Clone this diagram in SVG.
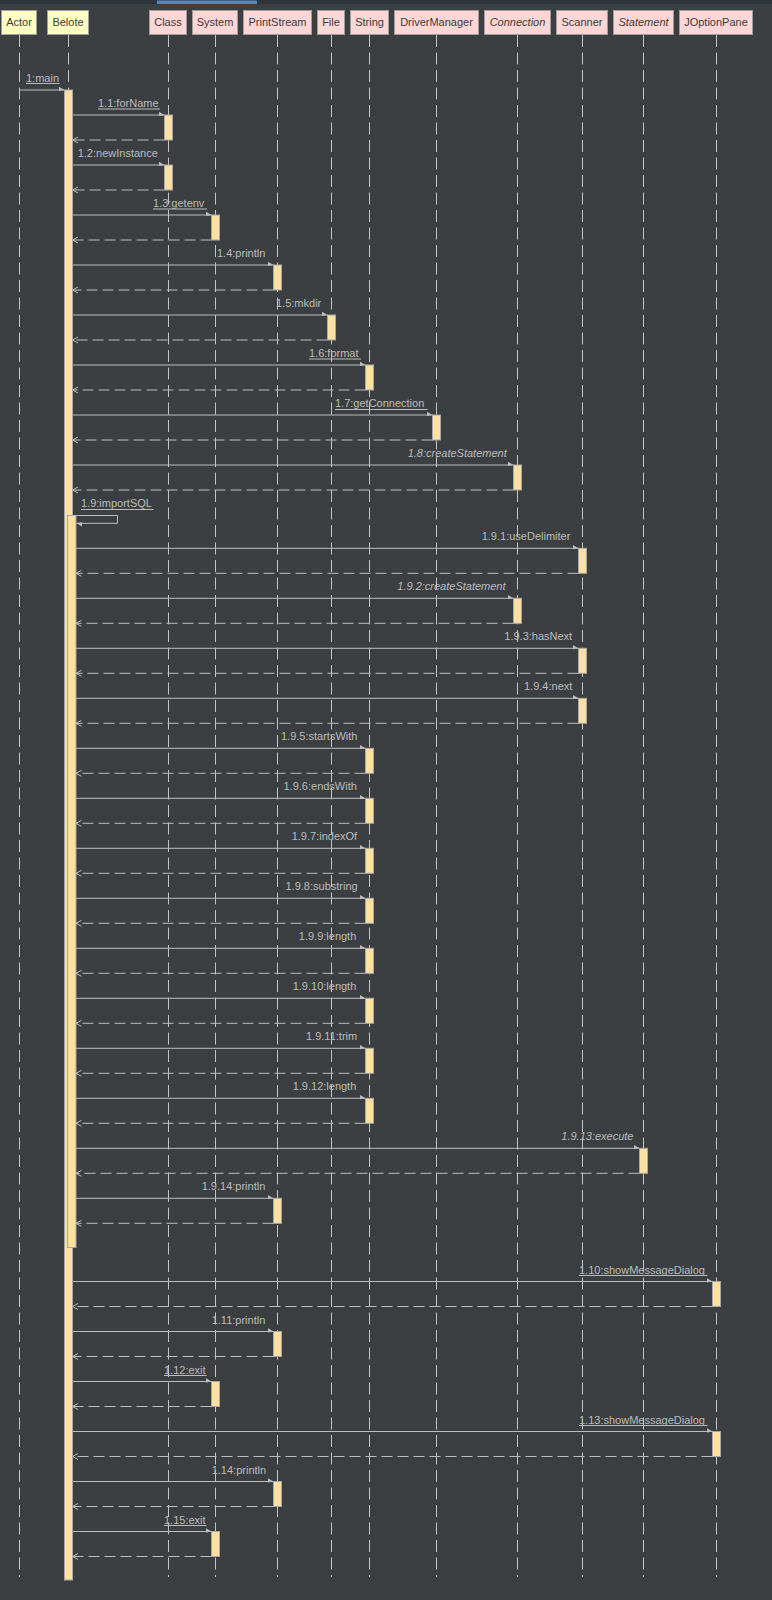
<svg xmlns="http://www.w3.org/2000/svg" width="772" height="1600" viewBox="0 0 772 1600">
<style>
.hdr{stroke:#9e9e9e;stroke-width:1}
.cls{fill:#ffd6d6}
.act{fill:#ffffc4}
.ht{font-family:"Liberation Sans",Arial,sans-serif;font-size:11px;fill:#3a3a3a;text-anchor:middle}
.it{font-style:italic}
.life{stroke:#c4c4c4;stroke-width:1;stroke-dasharray:12 5.5;fill:none}
.bar{fill:#ffe0a3;stroke:#a8a8a8;stroke-width:1}
.msg{stroke:#bdbdbd;stroke-width:1;fill:none}
.ret{stroke:#bdbdbd;stroke-width:1;fill:none;stroke-dasharray:11 5}
.lbl{font-family:"Liberation Sans",Arial,sans-serif;font-size:11px;fill:#bcbcbc}
.ul{stroke:#bcbcbc;stroke-width:1}
</style>
<defs>
<marker id="sync" viewBox="0 0 6 6" refX="6" refY="4" markerWidth="6" markerHeight="6" markerUnits="userSpaceOnUse" orient="auto">
<path d="M0,0.5 L6,4 L0,5 Z" fill="#bdbdbd"/>
</marker>
<marker id="open" viewBox="0 0 6 8" refX="6" refY="4" markerWidth="6" markerHeight="8" markerUnits="userSpaceOnUse" orient="auto">
<path d="M0.5,1 L6,4 L0.5,7" fill="none" stroke="#bdbdbd" stroke-width="1"/>
</marker>
</defs>
<rect x="0" y="0" width="772" height="1600" fill="#3c3f41"/>
<rect x="0" y="0" width="772" height="4" fill="#2f343a"/>
<rect x="157" y="0.5" width="100" height="3.5" fill="#4a88c7"/>

<g id="Actor"><line class="life" x1="19.5" y1="35" x2="19.5" y2="1577"/><rect class="hdr act" x="1.5" y="10.5" width="35" height="24"/><text class="ht" x="19" y="26">Actor</text></g>
<g id="Belote"><line class="life" x1="68.5" y1="35" x2="68.5" y2="1577"/><rect class="hdr act" x="47.5" y="10.5" width="41" height="24"/><text class="ht" x="68" y="26">Belote</text>
<rect class="bar" x="64.5" y="90" width="8" height="1490"/>
<rect class="bar" x="67.5" y="515.5" width="8.5" height="732"/></g>
<g id="Class"><line class="life" x1="168.5" y1="35" x2="168.5" y2="1577"/><rect class="hdr cls" x="149.5" y="10.5" width="37" height="24"/><text class="ht" x="168" y="26">Class</text>
<rect class="bar" x="164.5" y="115" width="8" height="25"/><rect class="bar" x="164.5" y="165" width="8" height="25"/></g>
<g id="System"><line class="life" x1="215.5" y1="35" x2="215.5" y2="1577"/><rect class="hdr cls" x="192.5" y="10.5" width="45" height="24"/><text class="ht" x="215" y="26">System</text>
<rect class="bar" x="211.5" y="215" width="8" height="25"/><rect class="bar" x="211.5" y="1381.5" width="8" height="25"/><rect class="bar" x="211.5" y="1531.5" width="8" height="25"/></g>
<g id="PrintStream"><line class="life" x1="277.5" y1="35" x2="277.5" y2="1577"/><rect class="hdr cls" x="243.5" y="10.5" width="68" height="24"/><text class="ht" x="277.5" y="26">PrintStream</text>
<rect class="bar" x="273.5" y="265" width="8" height="25"/><rect class="bar" x="273.5" y="1198.3" width="8" height="25"/><rect class="bar" x="273.5" y="1331.5" width="8" height="25"/><rect class="bar" x="273.5" y="1481.5" width="8" height="25"/></g>
<g id="File"><line class="life" x1="331.5" y1="35" x2="331.5" y2="1577"/><rect class="hdr cls" x="317.5" y="10.5" width="27" height="24"/><text class="ht" x="331" y="26">File</text>
<rect class="bar" x="327.5" y="315" width="8" height="25"/></g>
<g id="String"><line class="life" x1="369.5" y1="35" x2="369.5" y2="1577"/><rect class="hdr cls" x="350.5" y="10.5" width="38" height="24"/><text class="ht" x="369.5" y="26">String</text>
<rect class="bar" x="365.5" y="365" width="8" height="25"/>
<rect class="bar" x="365.5" y="748.3" width="8" height="25"/><rect class="bar" x="365.5" y="798.3" width="8" height="25"/><rect class="bar" x="365.5" y="848.3" width="8" height="25"/><rect class="bar" x="365.5" y="898.3" width="8" height="25"/><rect class="bar" x="365.5" y="948.3" width="8" height="25"/><rect class="bar" x="365.5" y="998.3" width="8" height="25"/><rect class="bar" x="365.5" y="1048.3" width="8" height="25"/><rect class="bar" x="365.5" y="1098.3" width="8" height="25"/></g>
<g id="DriverManager"><line class="life" x1="436.5" y1="35" x2="436.5" y2="1577"/><rect class="hdr cls" x="394.5" y="10.5" width="84" height="24"/><text class="ht" x="436.5" y="26">DriverManager</text>
<rect class="bar" x="432.5" y="415" width="8" height="25"/></g>
<g id="Connection"><line class="life" x1="517.5" y1="35" x2="517.5" y2="1577"/><rect class="hdr cls" x="484.5" y="10.5" width="66" height="24"/><text class="ht it" x="517.5" y="26">Connection</text>
<rect class="bar" x="513.5" y="465" width="8" height="25"/><rect class="bar" x="513.5" y="598.3" width="8" height="25"/></g>
<g id="Scanner"><line class="life" x1="582.5" y1="35" x2="582.5" y2="1577"/><rect class="hdr cls" x="556.5" y="10.5" width="51" height="24"/><text class="ht" x="582" y="26">Scanner</text>
<rect class="bar" x="578.5" y="548.3" width="8" height="25"/><rect class="bar" x="578.5" y="648.3" width="8" height="25"/><rect class="bar" x="578.5" y="698.3" width="8" height="25"/></g>
<g id="Statement"><line class="life" x1="643.5" y1="35" x2="643.5" y2="1577"/><rect class="hdr cls" x="613.5" y="10.5" width="60" height="24"/><text class="ht it" x="643.5" y="26">Statement</text>
<rect class="bar" x="639.5" y="1148.3" width="8" height="25"/></g>
<g id="JOptionPane"><line class="life" x1="716.5" y1="35" x2="716.5" y2="1577"/><rect class="hdr cls" x="679.5" y="10.5" width="73" height="24"/><text class="ht" x="716" y="26">JOptionPane</text>
<rect class="bar" x="712.5" y="1281.5" width="8" height="25"/><rect class="bar" x="712.5" y="1431.5" width="8" height="25"/></g>

<g id="connectors">
<line class="msg" x1="20" y1="90" x2="64.5" y2="90" marker-end="url(#sync)"/>
<text class="lbl" x="26" y="82">1:main</text><line class="ul" x1="26" y1="83.5" x2="59.5" y2="83.5"/>

<line class="msg" x1="72.5" y1="115" x2="164.5" y2="115" marker-end="url(#sync)"/>
<line class="ret" x1="164.5" y1="140" x2="72.5" y2="140" marker-end="url(#open)"/>
<text class="lbl" x="98" y="107">1.1:forName</text><line class="ul" x1="98" y1="109" x2="160" y2="109"/>

<line class="msg" x1="72.5" y1="165" x2="164.5" y2="165" marker-end="url(#sync)"/>
<line class="ret" x1="164.5" y1="190" x2="72.5" y2="190" marker-end="url(#open)"/>
<text class="lbl" x="77.7" y="157">1.2:newInstance</text>

<line class="msg" x1="72.5" y1="215" x2="211.5" y2="215" marker-end="url(#sync)"/>
<line class="ret" x1="211.5" y1="240" x2="72.5" y2="240" marker-end="url(#open)"/>
<text class="lbl" x="153" y="207">1.3:getenv</text><line class="ul" x1="153" y1="209" x2="207" y2="209"/>

<line class="msg" x1="72.5" y1="265" x2="273.5" y2="265" marker-end="url(#sync)"/>
<line class="ret" x1="273.5" y1="290" x2="72.5" y2="290" marker-end="url(#open)"/>
<text class="lbl" x="217" y="257">1.4:println</text>

<line class="msg" x1="72.5" y1="315" x2="327.5" y2="315" marker-end="url(#sync)"/>
<line class="ret" x1="327.5" y1="340" x2="72.5" y2="340" marker-end="url(#open)"/>
<text class="lbl" x="276" y="307">1.5:mkdir</text>

<line class="msg" x1="72.5" y1="365" x2="365.5" y2="365" marker-end="url(#sync)"/>
<line class="ret" x1="365.5" y1="390" x2="72.5" y2="390" marker-end="url(#open)"/>
<text class="lbl" x="309" y="357">1.6:format</text><line class="ul" x1="309" y1="359" x2="361" y2="359"/>

<line class="msg" x1="72.5" y1="415" x2="432.5" y2="415" marker-end="url(#sync)"/>
<line class="ret" x1="432.5" y1="440" x2="72.5" y2="440" marker-end="url(#open)"/>
<text class="lbl" x="335" y="407">1.7:getConnection</text><line class="ul" x1="335" y1="409.5" x2="427.5" y2="409.5"/>

<line class="msg" x1="72.5" y1="465" x2="513.5" y2="465" marker-end="url(#sync)"/>
<line class="ret" x1="513.5" y1="490" x2="72.5" y2="490" marker-end="url(#open)"/>
<text class="lbl it" x="407.7" y="457">1.8:createStatement</text>

<polyline class="msg" points="72.5,515.5 117.5,515.5 117.5,523.3 76.3,523.3" marker-end="url(#sync)"/>
<text class="lbl" x="81" y="507">1.9:importSQL</text><line class="ul" x1="81" y1="509.5" x2="153.5" y2="509.5"/>

<line class="msg" x1="76" y1="548.3" x2="578.5" y2="548.3" marker-end="url(#sync)"/>
<line class="ret" x1="578.5" y1="573.3" x2="76" y2="573.3" marker-end="url(#open)"/>
<text class="lbl" x="481.7" y="540.3">1.9.1:useDelimiter</text>

<line class="msg" x1="76" y1="598.3" x2="513.5" y2="598.3" marker-end="url(#sync)"/>
<line class="ret" x1="513.5" y1="623.3" x2="76" y2="623.3" marker-end="url(#open)"/>
<text class="lbl it" x="397.3" y="590.3">1.9.2:createStatement</text>

<line class="msg" x1="76" y1="648.3" x2="578.5" y2="648.3" marker-end="url(#sync)"/>
<line class="ret" x1="578.5" y1="673.3" x2="76" y2="673.3" marker-end="url(#open)"/>
<text class="lbl" x="504.3" y="640.3">1.9.3:hasNext</text>

<line class="msg" x1="76" y1="698.3" x2="578.5" y2="698.3" marker-end="url(#sync)"/>
<line class="ret" x1="578.5" y1="723.3" x2="76" y2="723.3" marker-end="url(#open)"/>
<text class="lbl" x="524" y="690.3">1.9.4:next</text>

<line class="msg" x1="76" y1="748.3" x2="365.5" y2="748.3" marker-end="url(#sync)"/>
<line class="ret" x1="365.5" y1="773.3" x2="76" y2="773.3" marker-end="url(#open)"/>
<text class="lbl" x="281" y="740.3">1.9.5:startsWith</text>

<line class="msg" x1="76" y1="798.3" x2="365.5" y2="798.3" marker-end="url(#sync)"/>
<line class="ret" x1="365.5" y1="823.3" x2="76" y2="823.3" marker-end="url(#open)"/>
<text class="lbl" x="283.5" y="790.3">1.9.6:endsWith</text>

<line class="msg" x1="76" y1="848.3" x2="365.5" y2="848.3" marker-end="url(#sync)"/>
<line class="ret" x1="365.5" y1="873.3" x2="76" y2="873.3" marker-end="url(#open)"/>
<text class="lbl" x="291.7" y="840.3">1.9.7:indexOf</text>

<line class="msg" x1="76" y1="898.3" x2="365.5" y2="898.3" marker-end="url(#sync)"/>
<line class="ret" x1="365.5" y1="923.3" x2="76" y2="923.3" marker-end="url(#open)"/>
<text class="lbl" x="285.5" y="890.3">1.9.8:substring</text>

<line class="msg" x1="76" y1="948.3" x2="365.5" y2="948.3" marker-end="url(#sync)"/>
<line class="ret" x1="365.5" y1="973.3" x2="76" y2="973.3" marker-end="url(#open)"/>
<text class="lbl" x="298.8" y="940.3">1.9.9:length</text>

<line class="msg" x1="76" y1="998.3" x2="365.5" y2="998.3" marker-end="url(#sync)"/>
<line class="ret" x1="365.5" y1="1023.3" x2="76" y2="1023.3" marker-end="url(#open)"/>
<text class="lbl" x="292.7" y="990.3">1.9.10:length</text>

<line class="msg" x1="76" y1="1048.3" x2="365.5" y2="1048.3" marker-end="url(#sync)"/>
<line class="ret" x1="365.5" y1="1073.3" x2="76" y2="1073.3" marker-end="url(#open)"/>
<text class="lbl" x="306" y="1040.3">1.9.11:trim</text>

<line class="msg" x1="76" y1="1098.3" x2="365.5" y2="1098.3" marker-end="url(#sync)"/>
<line class="ret" x1="365.5" y1="1123.3" x2="76" y2="1123.3" marker-end="url(#open)"/>
<text class="lbl" x="292.7" y="1090.3">1.9.12:length</text>

<line class="msg" x1="76" y1="1148.3" x2="639.5" y2="1148.3" marker-end="url(#sync)"/>
<line class="ret" x1="639.5" y1="1173.3" x2="76" y2="1173.3" marker-end="url(#open)"/>
<text class="lbl it" x="561.3" y="1140.3">1.9.13:execute</text>

<line class="msg" x1="76" y1="1198.3" x2="273.5" y2="1198.3" marker-end="url(#sync)"/>
<line class="ret" x1="273.5" y1="1223.3" x2="76" y2="1223.3" marker-end="url(#open)"/>
<text class="lbl" x="201.7" y="1190.3">1.9.14:println</text>

<line class="msg" x1="72.5" y1="1281.5" x2="712.5" y2="1281.5" marker-end="url(#sync)"/>
<line class="ret" x1="712.5" y1="1306.5" x2="72.5" y2="1306.5" marker-end="url(#open)"/>
<text class="lbl" x="579" y="1273.5">1.10:showMessageDialog</text><line class="ul" x1="579" y1="1275.5" x2="707.5" y2="1275.5"/>

<line class="msg" x1="72.5" y1="1331.5" x2="273.5" y2="1331.5" marker-end="url(#sync)"/>
<line class="ret" x1="273.5" y1="1356.5" x2="72.5" y2="1356.5" marker-end="url(#open)"/>
<text class="lbl" x="211.7" y="1323.5">1.11:println</text>

<line class="msg" x1="72.5" y1="1381.5" x2="211.5" y2="1381.5" marker-end="url(#sync)"/>
<line class="ret" x1="211.5" y1="1406.5" x2="72.5" y2="1406.5" marker-end="url(#open)"/>
<text class="lbl" x="164" y="1373.5">1.12:exit</text><line class="ul" x1="164" y1="1375.5" x2="206.5" y2="1375.5"/>

<line class="msg" x1="72.5" y1="1431.5" x2="712.5" y2="1431.5" marker-end="url(#sync)"/>
<line class="ret" x1="712.5" y1="1456.5" x2="72.5" y2="1456.5" marker-end="url(#open)"/>
<text class="lbl" x="579" y="1423.5">1.13:showMessageDialog</text><line class="ul" x1="579" y1="1425.5" x2="707.5" y2="1425.5"/>

<line class="msg" x1="72.5" y1="1481.5" x2="273.5" y2="1481.5" marker-end="url(#sync)"/>
<line class="ret" x1="273.5" y1="1506.5" x2="72.5" y2="1506.5" marker-end="url(#open)"/>
<text class="lbl" x="211.7" y="1473.5">1.14:println</text>

<line class="msg" x1="72.5" y1="1531.5" x2="211.5" y2="1531.5" marker-end="url(#sync)"/>
<line class="ret" x1="211.5" y1="1556.5" x2="72.5" y2="1556.5" marker-end="url(#open)"/>
<text class="lbl" x="164" y="1523.5">1.15:exit</text><line class="ul" x1="164" y1="1525.5" x2="206.5" y2="1525.5"/>
</g>
</svg>
